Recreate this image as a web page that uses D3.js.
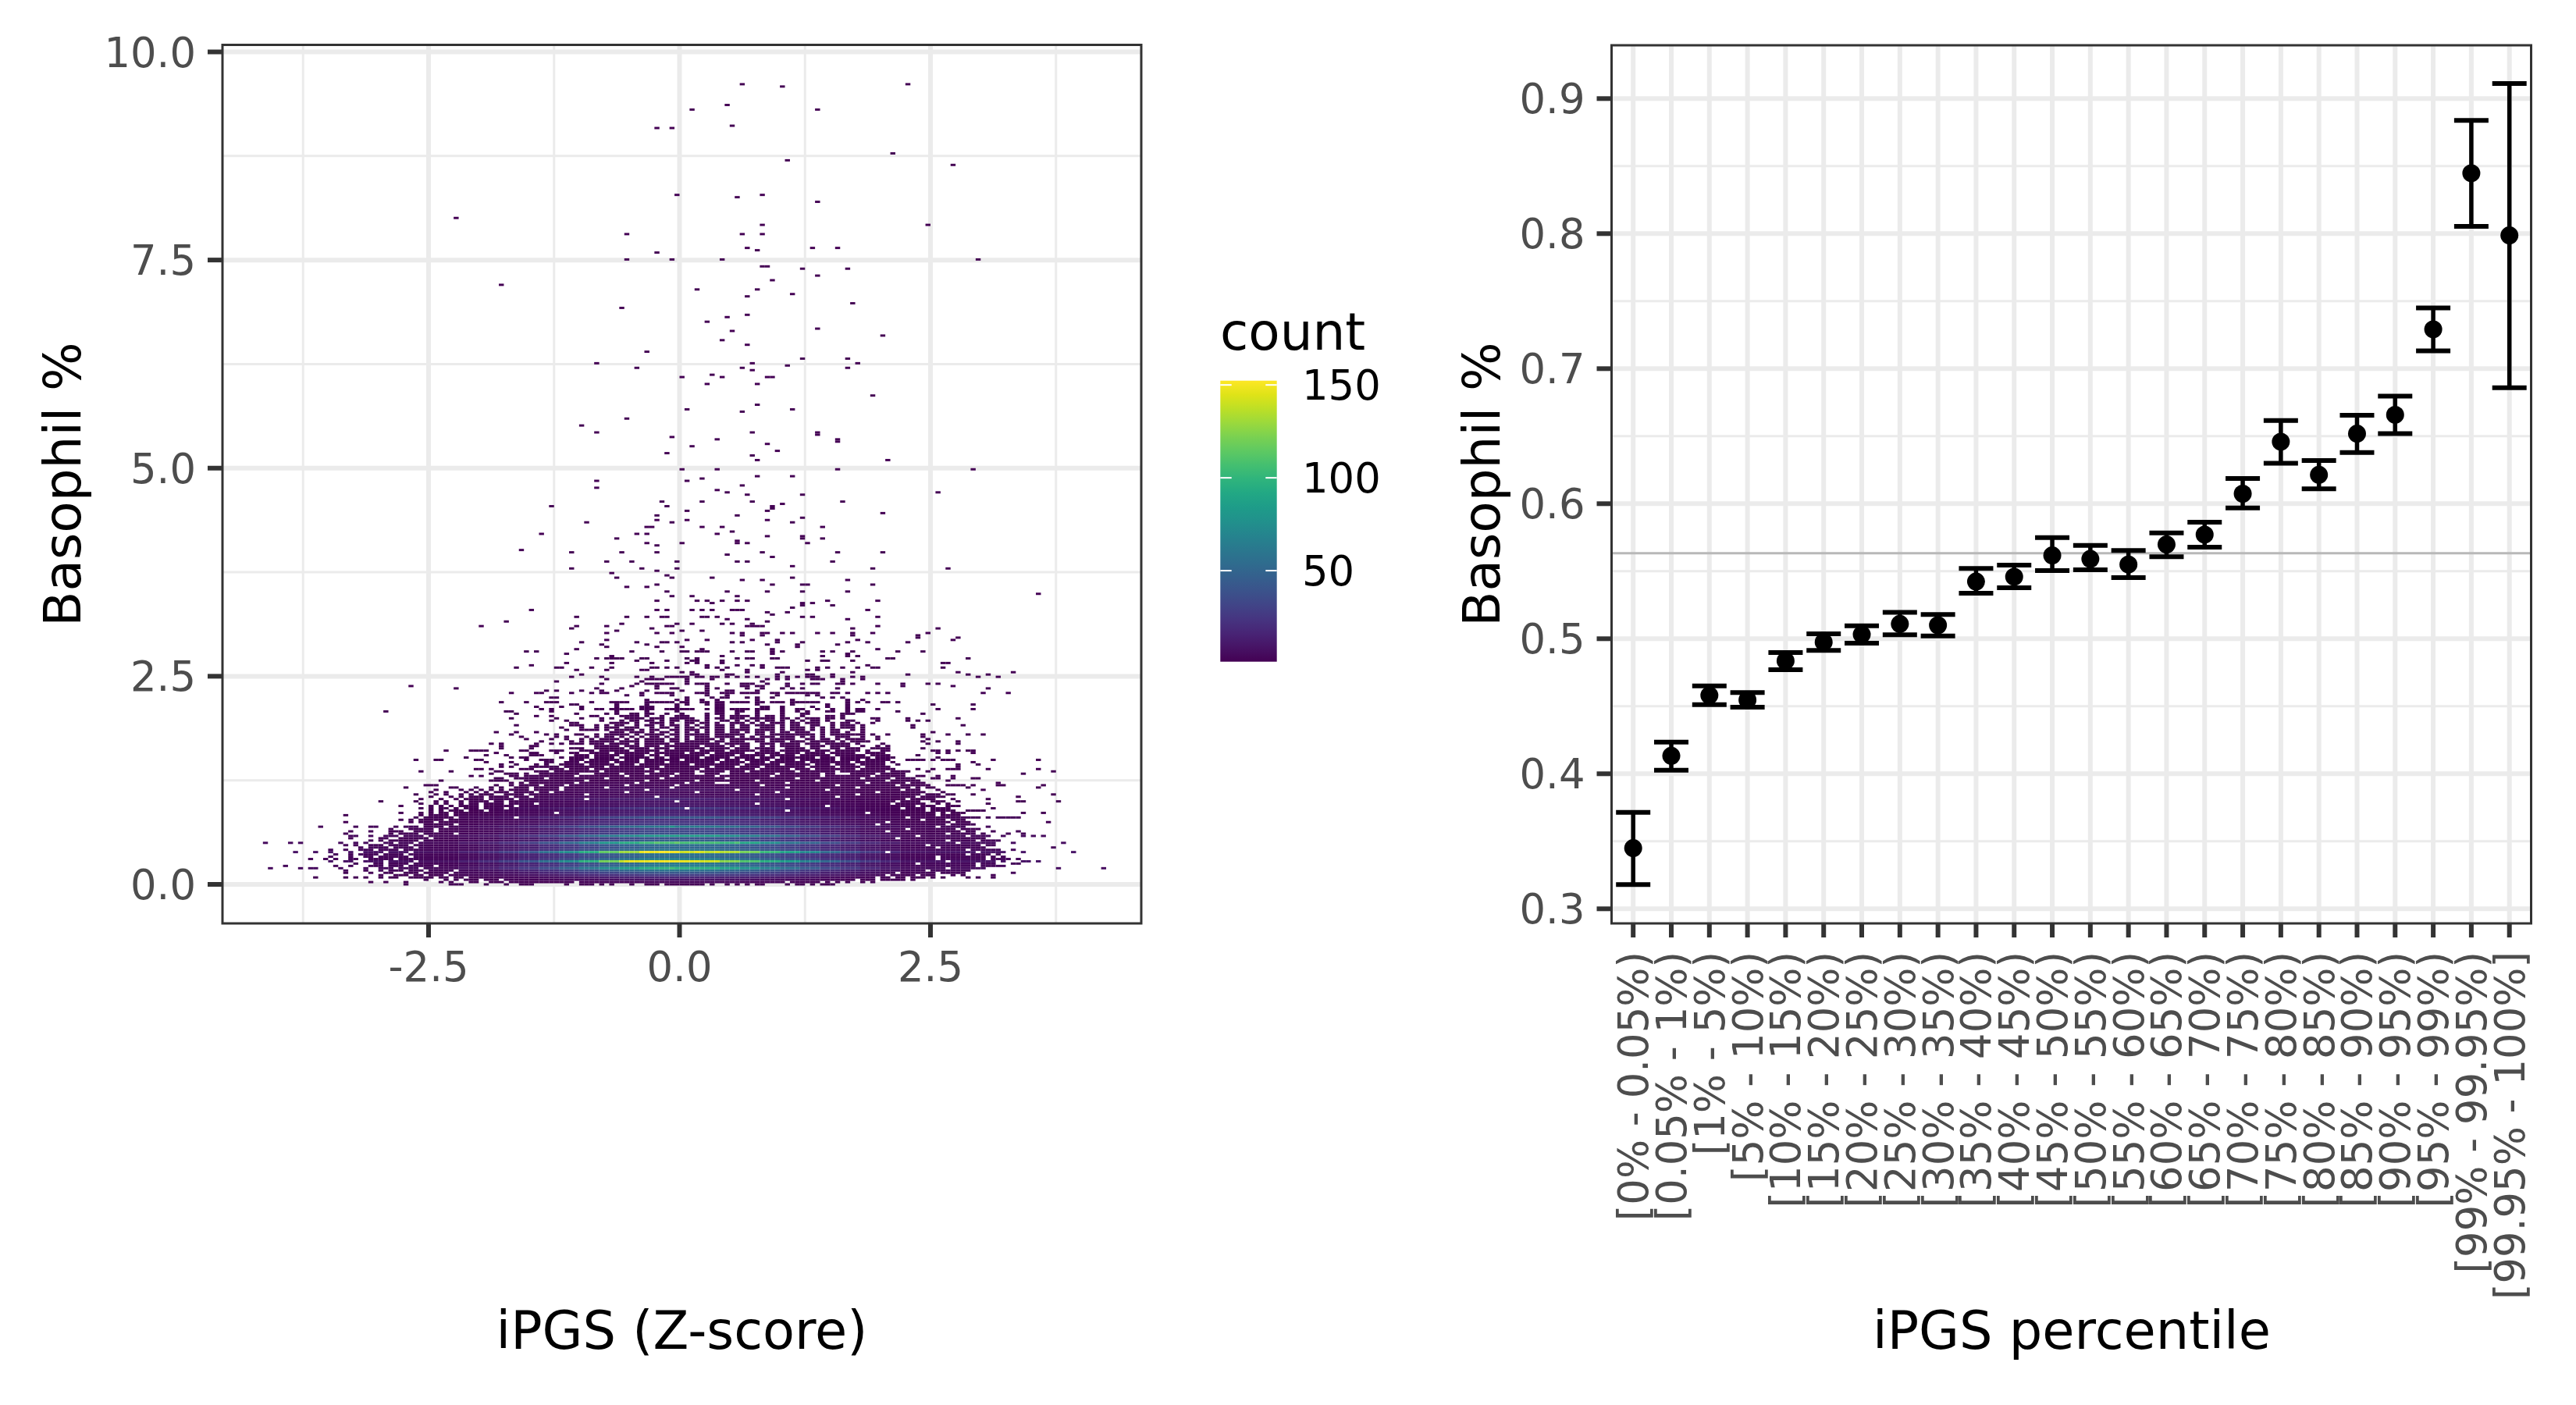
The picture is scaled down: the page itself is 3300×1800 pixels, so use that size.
<!DOCTYPE html>
<html><head><meta charset="utf-8"><script src="https://cdn.jsdelivr.net/npm/d3@7"></script>
<style>html,body{margin:0;background:#fff}text{font-family:"DejaVu Sans"}</style></head><body>
<svg id="c" width="3300" height="1800" xmlns="http://www.w3.org/2000/svg"></svg>
<script>
// ---- left panel data: 2D histogram ----
const xBinWidth = 0.05, yBinWidth = 0.0277;
// "row|col col a:b" : occupied bins of each y-row
const outlierRows = ["347|12 45","346|20","338|9","336|2 27","329|10","328|-5 -2","317|42","314|21","312|54","299|-1 16","298|11","296|27","289|-45","286|16 49","282|-11 12 16","276|13 26 31","275|15","274|-5","271|-11 -2 8 59","268|16 17","267|24 33","264|27","262|18","260|-36","258|3 15","256|22","255|13","252|34","250|-12","247|13","246|9","244|5","241|27","240|10","238|40","236|8","234|13","231|-7","228|24 33","226|-17 14 35","225|21","224|-9 12 33","223|14","221|6","220|0 8 17 18","217|5 15","212|38","208|15","206|1 22","205|12","202|-11","199|-20","196|-17 14 27","195|27","194|-2","193|7 31","192|31","191|17","190|2","188|19","187|-3","186|14","184|15 41","180|0 7 31 58","177|15 22","176|4","175|-17 1","173|12","172|-17","171|7","170|9 51","169|13 24","166|-4 4 14 32","165|20","164|-26 -3 18","163|18","162|1 17","161|40","160|-5 11","159|24","158|-5 1 17","157|-19 -2 22","155|-7 -6 4 8 28","153|10","152|-28 -9 -7 7","151|17 24","150|-13 24 28","149|11","148|-7 0 11 13 25","147|-5","145|-32","144|-22 -12 -5 16 31 40","143|9","142|18","140|-15 -10 -1 11 13 30","138|22","137|-22 -8 -1 38 53","136|-5","135|-14","134|-3","133|-13 -2 6 22","132|12 16 33","130|-5 18 24 25 38","129|-11 -7","127|-3 9 17 24 33","126|71","125|-2 2 11","123|-5 3 5 8 11 13 29 39","122|6 24 26","121|24 30","120|22","119|-30 -5 -3 2 4 6 10 11 12 37","118|17 21","117|18","116|-21 -11 -7 -4 -3 4 5 7 24 26 39","115|9 13 33","114|-35 17","113|-12 -1 2 8 10 14","112|-40 -21 -15 -3 -2 13:16 39","111|-22 -6 34 51","110|-13 0 4"];
const midRows = ["109|-15 -5 -2 10 12 16 17 20 22 27 30 34 38 49","108|12 16 34 47","107|47 55","106|-15 1 5 14 19 35 54","105|-20 -9 -4 -3 -1 10 12 19 24 33 37 45","104|-16 -7 17 23 31","103|-15 -5 0 23","102|-21 4 18 39","101|-31 -29 -10 -4 0 1 3:5 10 13 14 18 20 28 30 34 43 48","100|-23 18 33","99|-14 8 28 33 35","98|-17 -15:-12 -8 -7 1 3 11 13 14 18 19 41 42 57","97|-9 -3 2 3 8 25 28 29 34","96|-23 -14 -6 1 3 8 52 53","95|-30 5 11 14 16 37","94|-33 -25 -24 -18 -14 -6 -5 -3 -1 5 7 9 16 19:21 27 29 32 35 38 39 52","93|-21 -15 -8 -7 8 13 25 27","92|0 2 13 20 34 55 66","91|-20 2 3 9 10 19 25 26 30 45 57 61","90|-22 -16 -9 -6 -3:1 3 4 6 7 9 11 13 15 19 21 23 25:27 30 34 36 59 63","89|-15 -7:-4 1 6 17 19 21 26:28 32 36","88|-25 -8 1 16 32","87|-16 -9 -7:-2 1 3:5 9 12:14 17 21 24 26 27 31 32 34 39 44 49 51","86|-54 -10 -5 5 12 13 15 16 21 44 54","85|-45 -17 -12 -5 -2 -1 5 7 13 16 20 22 24 31 61","84|-27 -25 -20 -16 -13 -7 0 5 9 10 15","83|-34 -29 -28 -22 -18 -16 -15 -8 -5:-2 3:5 8:10 12:15 18 19 21:27 30 31 33 37 39 41 60 65","82|-11 -8 -2 5 9 19 25 27","81|-26 -25 1 6 8 9 13 15 18 28 30 32","80|-7 -1 1 4 7 15 22 33 36","79|-36 -31 -27:-25 -18 -14:-11 -7:-2 0 1 4 5 7 8 10:13 15 16 18:20 22:27 33 35 37 40 41 43","78|-22 -21 -13 -7 -1 1 5 7 8 15 22 29 33 50 58","77|-29 -24 -20 -13 -8:-6 -1 7 8 16 17 20 26 29 33","76|-28 -26 -20 -17 -16 -14:-10 -8:-6 -3:2 5 7 8 10:13 15:17 20 23 24 27 30 33 35 36 39 51 58","75|-59 -35 -34 -26 -13 -7 -1 7 8 11 12 15 20 23 25 29 30 33 35 36 43","74|-33 -21 -15 -13 -10 -9 -7 -6 -3 0 5 7 8 11 15 20 24 25 32:34 48","73|-29 -26 -18 -17 -12:-9 -7 -4 -1:1 5 8 10:13 15 17 18 20 24 29 30 32","72|-34 -25 -20 -16 -14 -11:-8 -6:-4 -2:2 5 7 8 10:12 14 15:18 20 21 23 25:27 29 30 32 38 39 45 55","71|-26 -23 -16 -12 -10 -9 -7 -6 -4 -2 -1 1:3 5 8 9 11 13 15 17 18 20 22 24 26 27 29 33 34 39 45 47 49","70|-22 -21 -14:-11 -9 -6:-4 -2 1 2 4 5 7 10:12 14 16 18:20 22 23 25:27 30 32 33 35 38","69|-33 -22:-20 -17 -15 -13 -12 -9 -7 -6 -4 -2 -1 1 3 5 7 8 10 12 13 15:18 20 22 23 26 27 30 32:34 36 46 56","68|-24 -20 -17 -15:-13 -11:-9 -6 -4 -3 -1 1 2 4 5 7 8 10 12 13 16:18 20 22:24 26 28 30 32:34 36 46","67|-23 -20:-17 -15 -13:-10 -8 -6 -5 -2 -1 1:3 5 7 8 10:13 15:18 20 22:24 26 28 30 31 34 36","66|-37 -33 -29 -14:-12 -10:-8 -6 -4 -3 -1 1 3 5 7 8 10 11 13 15 16 18 20 21 23:25 28 30 31 33 36 50","65|-34 -27 -25 -21 -20 -17 -15:-11 -9 -7:-4 -2 -1 1:5 7 8:12 15 16 18 19:26 28 30:36 38 41 48 53 57 60","64|-32 -25 -23 -19 -17 -15 -14 -12 -10 -8 -6 -5 -3 -1 1 3:5 7 8:10 12 14 16:18 20:22 24 26 28 31:33 36 39 48","63|-31 -26 -23 -20 -18 -16:-13 -11 -9 -7:-4 -2 -1 1 3:6 8 10:16 18 19:22 25 26 28 29 31 33:36 39 49","62|-28 -22 -20 -18 -17:-14 -12 -11:-9 -7:-4 -2 -1 1:5 7 8 10:12 15 16 18:20 22:24 26:30 32 34:37 48 51 55","61|-38 -36 -29 -26 -24 -22:-20 -18:-16 -14:-11 -9 -7:-3 -1:7 9:13 16:18 20:23 25:27 29:33 35 40 49 55"];
const denseRows = ["60|-36 -30 -29 -17:-13 -11:-9 -7:-5 -3:3 5:8 10 12 13 16 18 20:23 26:28 30:33 36 39 41","59|-36 -30 -22:-20 -17:-12 -10:-7 -5:-3 -1:4 6:9 11:13 15:18 21:24 26 27 30 31 33:35 38:41 48","58|-47 -42:-39 -32 -31 -26:-24 -20:-18 -16:-11 -9:-5 -3:2 4:8 10:14 16:18 20:25 27:29 31:35 37 40 41 50 51 53 55 57 58","57|-37 -30 -29 -25 -22 -21 -18:-15 -13:-7 -5:0 2:5 7:12 15:19 21:23 25:28 30:34 37:40 51 53 58","56|-39 -35 -30:-28 -21:-19 -17:-13 -11:-8 -6:-5 -3:4 6:10 12:16 18:22 24:29 31:36 38:41 47","55|-43 -34 -32 -31 -24 -22:-19 -17:-14 -12:-7 -5:-4 -2:3 5:9 11:14 16:18 20:26 28:30 32:37 39:42 51","54|-53 -49 -48 -41 -40 -31 -28:-26 -22:-20 -18:-13 -11:-9 -7:-1 1:7 9:11 13:17 19:22 24:30 32:35 37:41 45:48 50 52:54 62 71","53|-39 -34 -27 -26 -23:-21 -19:-15 -13:-9 -7:-4 -2:6 8:12 14:16 18:24 26:33 35:40 42 58","52|-36 -33 -29 -27 -24:-20 -18:-14 -12:-10 -8:1 3:11 13:19 21:25 27:29 31:34 36:40 43 55 59","51|-36 -34 -30:-25 -23:-16 -14:-5 -3:5 7:10 12:15 17:24 26:30 32:35 37:41 55","50|-41 -40 -38 -32:-30 -26:-24 -22:-19 -17:-8 -6:3 5:14 16:21 23:25 27:34 36:42 47 50 53:55 61 71","49|-52 -46 -37 -36 -29:-27 -25:-17 -15:-6 -4:2 4:8 10:12 14:22 24:30 32:40 42:45 49 74","48|-38 -35:-33 -31 -28:-21 -17:-13 -11:-8 -6:-2 0:2 5:7 10:18 20:27 29 30 34:38 40:44 68","47|-42 -40 -34 -33 -31:-22 -20:-12 -10:-3 -1:6 8:17 19:27 29:37 39:44 47 48 51 54","46|-37 -36 -33:-28 -26:-16 -14:-5 -3:8 10:22 24:35 37:41 43:46 50 51 54 58 59","45|-48 -38:-35 -31:-20 -18:-8 -6:2 4:14 16:26 28:40 42:47 53","44|-34 -32 -30:-22 -20:-10 -8:0 2:6 10:20 22:36 38:44 46:48 63","43|-51:-49 -37 -34 -32:-29 -27:-24 -22:-12 -10:-2 0:15 17:30 32:42 44:49 53:56 58 63 64 72","42|-55 -46 -45 -41 -38 -36 -33:-31 -29:-25 -23:-16 -14:-3 -1:20 22:34 36:45 47 49 50 57 71","41|-49 -44 -42 -40 -38 -36 -34:-31 -29:-25 -23:-8 -6:10 12:28 30:43 45:47 51 60","40|-50 -47 -43 -41 -39 -37:-35 -33:-30 -28 -27 -25:-12 -10:2 4:18 20:38 40:48 52","39|-53 -49 -47 -44 -42 -40:-38 -35:-32 -30:-20 -18:14 16:34 36:47 49:51 53 54 58 74","38|-50 -46 -44 -42:-40 -38:-35 -33:-31 -29:-6 -4:30 32:46 48:52 67","37|-52 -48 -45 -43:-40 -38:-34 -32:-20 -18:20 22:44 46:50 54 61","36|-60 -53 -49 -47 -44 -42:-39 -37 -36 -34:-2 0:42 44:47 50:52 55 67 68 75","35|-52 -49 -47 -44 -42 -41 -39:-36 -34:-30 -28:14 16:41 43:48 51 53 61","34|-56 -50 -48 -46 -44:-41 -39:-34 -32:28 30:46 48:50 53:55","33|-52 -50 -48 -47 -45 -43:-41 -39:-36 -34:0 2:43 45:48 50:53 62","32|-50 -48 -46:-44 -42:-40 -38:20 22:48 50:54 57:60","31|-56 -52 -50 -48 -47 -45 -44:-26 -24:36 38:50 52 54:56 68 72","30|-67 -52 -50:-47 -45:50 52:55","29|-53 -51:-46 -44:-34 -32:44 46:54 55:59 61 63:67","28|-56 -54 -52:-48 -46:47 49:52 54:56","27|-67 -54 -52:-50 -48:40 42:53 55:57 73","26|-51:-46 -44:38 40:52 54:58","25|-72 -65 -62 -61 -57 -55:-53 -51:-48 -46:50 52:56 61","24|-58 -54:-50 -48:44 46:54 56:59","23|-66 -62 -58:-56 -53:-50 -48:40 42:55 57 58 62 67","22|-67 -58 -56:-53 -51:-46 -44:52 54:58 60 65 68","21|-66 -65 -62 -59:-57 -55:-52 -50:46 48:56 58:61 64 68 70 72","20|-66 -60 -59 -56:-51 -49:42 44:60","19|-62 -60 -58:-53 -51:52 54:58 60:63","18|-83 -78 -76 -68 -65 -63 -59 -58 -56:-54 -52:54 56:62 66 76","17|-67 -65 -62:-60 -58:-55 -53:48 50:59 61 62","16|-64 -62:-59 -57:-54 -52:50 52:60 74","15|-70 -67 -64:-62 -60:-57 -55:56 58:63 66","14|-77 -73 -70 -66 -63:-60 -58:-55 -53:40 42:58 60:64 68 78","13|-69 -66 -64:-61 -59:-56 -54:56 58:61 63","12|-70 -66 -63 -62 -60:-55 -53:50 52:60 62 64","11|-74 -71 -69 -66 -65 -62:-58 -56:50 52:60 62:65 67","10|-70 -67 -66 -63:-60 -58:-54 -52:52 54:62 64 68 69 71","9|-65 -61 -60 -58:-55 -53:46 48:58 60:62 66 67","8|-79 -69 -66 -62:-60 -58:-56 -54:-50 -48:58 60:64","7|-82 -76 -74 -73 -68 -63 -60:-58 -56:-53 -51:52 54:60 75 84","6|-67 -63 -60 -58:-56 -54:-52 -50:-46 -44:48 50:57","5|-67 -62 -59 -58 -55:-53 -51:-47 -45:42 44:50 52:56 66","4|-60 -57:-55 -53 -52 -50:-48 -46:40 42:46 48:50 54 56 62","3|-73 -67 -65 -63 -60 -58 -57 -54:-50 -48 -47 -45 -44 -42:38 40 41 43 44 46:48 50 52 57 59 62","2|-51 -47 -45 -43:-41 -39:-37 -35:34 36:38 40:44 46","1|-62 -59 -55 -48 -46 -42 -41 -38:-36 -34:-22 -20:20 22:27 29 31 33 36 38","0|-55 -46:-44 -39 -35 -32:-30 -23 -20:-18 -16 -14 -10 -7:-5 -3:4 6 9 11 13 15 16 21 23 24 26 28:30"];
// count per y-row (index = row) and column band, four columns wide
const coreBandBreaks = [-44,-40,-36,-32,-28,-24,-20,-16,-12,-8,-4,0,4,8,12,16,20,24,28,32,36,40,44];
const coreCounts = [
[1,1,1,1,1,1,1,1,1,1,1,1,2,1,1,1,1,1,1,1,1,1,1,1],
[1,1,1,1,1,1,2,2,3,3,4,4,4,4,4,3,3,2,2,1,1,1,1,1],
[1,1,1,2,2,3,4,5,6,7,8,8,8,8,7,6,5,4,4,3,2,1,1,1],
[1,1,2,3,4,6,8,10,12,14,15,16,16,15,14,13,11,9,7,5,4,3,2,1],
[1,3,4,5,8,10,14,17,21,24,27,28,28,27,25,22,19,16,13,10,7,5,3,2],
[2,4,5,8,11,16,21,26,32,37,40,42,42,41,37,33,28,24,19,14,11,7,5,3],
[3,5,8,11,16,22,29,37,45,52,58,60,60,58,53,47,40,34,27,20,15,10,7,4],
[5,9,13,19,26,36,48,61,74,85,94,98,98,95,87,77,66,55,44,33,25,17,11,6],
[3,6,9,13,18,24,32,41,50,57,63,66,66,64,59,52,44,37,30,22,17,11,7,4],
[3,5,8,11,16,22,29,37,45,52,58,60,60,58,53,47,40,34,27,20,15,10,7,4],
[8,14,20,29,41,56,74,98,120,138,148,150,148,142,125,110,96,84,68,51,38,26,17,9],
[3,6,9,13,18,25,33,42,51,59,65,68,68,66,60,54,46,38,31,23,17,12,7,4],
[3,5,7,10,15,20,26,33,40,47,52,54,54,52,48,43,36,30,24,18,14,9,6,3],
[3,5,8,11,16,21,28,36,44,50,56,58,58,56,52,46,39,32,26,20,15,10,6,3],
[8,14,20,29,41,56,74,95,115,130,148,150,146,142,135,120,102,88,72,53,38,26,17,9],
[3,5,8,12,16,22,29,36,45,52,58,60,59,58,52,47,40,33,27,20,15,10,7,4],
[3,5,7,10,14,19,25,31,38,44,48,50,50,49,45,40,34,28,23,17,13,9,6,3],
[3,5,7,11,15,21,27,35,42,49,54,56,56,54,50,44,38,31,25,19,14,10,6,3],
[5,10,14,21,29,40,53,67,81,94,104,108,106,106,100,90,75,60,49,37,27,18,12,6],
[2,4,6,9,12,17,23,29,35,40,44,46,46,45,41,36,31,26,21,16,12,8,5,3],
[2,4,5,8,11,15,20,25,30,35,38,40,40,39,36,32,27,22,18,14,10,7,4,2],
[4,8,11,16,23,31,42,53,64,74,82,85,85,84,76,67,57,48,38,29,21,14,9,5],
[2,3,5,7,10,14,18,23,28,32,36,37,37,36,33,29,25,21,17,13,9,6,4,2],
[2,3,4,6,9,13,17,21,26,30,33,34,34,33,30,27,23,19,15,12,9,6,4,2],
[2,3,4,6,8,11,15,19,23,27,30,31,31,30,28,24,21,17,14,11,8,5,3,2],
[3,6,8,12,17,24,31,40,48,56,61,64,64,62,57,51,43,36,29,22,16,11,7,4],
[1,2,4,5,7,10,13,17,20,23,26,27,27,26,24,21,18,15,12,9,7,5,3,2],
[1,2,3,5,6,9,12,15,18,21,23,24,24,23,21,19,16,13,11,8,6,4,3,1],
[1,2,3,4,6,8,10,13,16,18,20,21,21,20,19,17,14,12,9,7,5,4,2,1],
[2,4,6,8,12,16,21,27,32,37,41,43,43,42,38,34,29,24,19,15,11,7,5,3],
[1,2,2,3,5,6,8,11,13,15,16,17,17,16,15,13,11,10,8,6,4,3,2,1],
[1,1,2,3,4,6,7,9,11,13,14,15,15,15,13,12,10,8,7,5,4,3,2,1],
[1,1,2,3,4,5,7,9,10,12,13,14,14,14,12,11,9,8,6,5,3,2,2,1],
[1,2,3,5,7,10,13,16,19,23,25,26,26,25,23,21,17,15,12,9,6,4,3,2],
[1,1,1,2,3,4,5,7,8,10,11,11,11,11,10,9,7,6,5,4,3,2,1,1],
[1,1,1,2,3,4,5,6,8,9,10,10,10,10,9,8,7,6,4,3,3,2,1,1],
[1,1,1,2,2,3,4,6,7,8,9,9,9,9,8,7,6,5,4,3,2,2,1,1]];
// rows above the core, coarser bands
const upperBandBreaks = [-40,-32,-26,-20,-14,-8,-2,4,10,16,22,28,34,42];
const upperCounts = [[1,3,5,8,11,14,16,16,15,13,11,8,5,3,1],[1,1,2,4,5,6,7,7,6,6,4,3,2,1,1],[1,1,2,3,4,5,6,6,5,5,4,3,2,1,1],[1,1,2,3,4,5,5,5,5,4,3,2,2,1,1],[1,1,2,3,5,6,7,8,7,6,4,3,2,1,1],[1,1,1,2,3,4,4,4,4,3,3,2,1,1,1],[1,1,1,2,3,3,3,3,3,3,2,2,1,1,1],[1,1,1,2,2,3,3,3,3,2,2,1,1,1,1]];
const peakCells = [[14,-7,151],[14,-4,153],[14,-3,150],[14,0,140],[14,1,142],[14,2,140],[14,5,136],[14,6,138],[10,-11,146],[10,-10,148],[10,-9,146],[10,-6,152],[10,-5,148],[10,-2,150],[10,2,146],[18,-5,112],[18,-1,115],[18,11,108],[25,-2,80],[7,-2,105]];
const leftXTicks = [-2.5,0,2.5], leftXMinor = [-3.75,-1.25,1.25,3.75];
const leftYTicks = [0,2.5,5,7.5,10], leftYMinor = [1.25,3.75,6.25,8.75];
const legendTicks = [50,100,150];
// ---- right panel data ----
const percentileBins = ["[0% - 0.05%)","[0.05% - 1%)","[1% - 5%)","[5% - 10%)","[10% - 15%)","[15% - 20%)","[20% - 25%)","[25% - 30%)","[30% - 35%)","[35% - 40%)","[40% - 45%)","[45% - 50%)","[50% - 55%)","[55% - 60%)","[60% - 65%)","[65% - 70%)","[70% - 75%)","[75% - 80%)","[80% - 85%)","[85% - 90%)","[90% - 95%)","[95% - 99%)","[99% - 99.95%)","[99.95% - 100%]"];
const meanValues = [.3449,.4133,.4581,.4547,.4836,.4975,.5032,.511,.51,.5423,.5459,.5617,.5591,.555,.5698,.5771,.6074,.6459,.6214,.6519,.6658,.7291,.8447,.7987];
const lowerValues = [.3179,.4027,.4512,.4493,.477,.4913,.4967,.5029,.502,.5337,.5377,.5505,.551,.5452,.5607,.5678,.5968,.6299,.611,.6379,.6519,.7132,.8054,.6859];
const upperValues = [.3714,.4235,.4651,.4601,.4898,.5036,.5096,.5195,.518,.552,.5545,.5749,.5691,.5654,.5784,.5863,.6187,.6616,.632,.6655,.6797,.745,.8838,.9111];
const overallMean = 0.5633;
const rightYTicks = [.3,.4,.5,.6,.7,.8,.9], rightYMinor = [.35,.45,.55,.65,.75,.85];

const GRID="#ebebeb", BORDER="#333333", TXT="#4d4d4d";
const svg=d3.select("#c");
svg.append("rect").attr("width",3300).attr("height",1800).attr("fill","#fff");

function hLines(g,vals,y,x0,x1,w){g.selectAll(null).data(vals).enter().append("line").attr("x1",x0).attr("x2",x1).attr("y1",d=>y(d)).attr("y2",d=>y(d)).attr("stroke",GRID).attr("stroke-width",w);}
function vLines(g,vals,x,y0,y1,w){g.selectAll(null).data(vals).enter().append("line").attr("y1",y0).attr("y2",y1).attr("x1",d=>x(d)).attr("x2",d=>x(d)).attr("stroke",GRID).attr("stroke-width",w);}
function yAxis(g,vals,y,xEdge,fmt){
  g.selectAll(null).data(vals).enter().append("line").attr("x1",xEdge-18).attr("x2",xEdge).attr("y1",d=>y(d)).attr("y2",d=>y(d)).attr("stroke",BORDER).attr("stroke-width",6);
  g.selectAll(null).data(vals).enter().append("text").attr("x",xEdge-33).attr("y",d=>y(d)+19).attr("text-anchor","end").attr("font-size",52.8).attr("fill",TXT).text(fmt);
}

// ---- left panel ----
const P1={l:285,r:1462,t:57.5,b:1183};
const x1=d3.scaleLinear().domain([-2.5,2.5]).range([549,1192]);
const y1=d3.scaleLinear().domain([0,10]).range([1133,66.5]);
const g1=svg.append("g");
hLines(g1,leftYMinor,y1,P1.l,P1.r,3);vLines(g1,leftXMinor,x1,P1.t,P1.b,3);
hLines(g1,leftYTicks,y1,P1.l,P1.r,6);vLines(g1,leftXTicks,x1,P1.t,P1.b,6);

function parseRows(rows){
  const out=[];
  rows.forEach(s=>{const [r,rest]=s.split("|");
    rest.trim().split(/\s+/).forEach(t=>{
      const m=t.match(/^(-?\d+):(-?\d+)$/);
      if(m){for(let k=+m[1];k<=+m[2];k++)out.push([+r,k]);}
      else out.push([+r,+t]);
    });});
  return out;
}
const seen=new Set();
const peakMap=new Map(peakCells.map(p=>[p[0]+"_"+p[1],p[2]]));
const bandOf=d3.bisectRight;
const cells=parseRows(outlierRows.concat(midRows,denseRows)).filter(c=>{const k=c[0]+"_"+c[1];if(seen.has(k))return false;seen.add(k);return true;})
  .map(([r,k])=>{
    const key=r+"_"+k;
    let n=1;
    if(peakMap.has(key))n=peakMap.get(key);
    else if(r<coreCounts.length)n=coreCounts[r][bandOf(coreBandBreaks,k)];
    else if(r-coreCounts.length<upperCounts.length)n=upperCounts[r-coreCounts.length][bandOf(upperBandBreaks,k)];
    return {x0:k*xBinWidth,x1:(k+1)*xBinWidth,y0:(r-0.5)*yBinWidth,y1:(r+0.5)*yBinWidth,count:n};
  });
const color=d3.scaleSequential(d3.interpolateViridis).domain([1,152.5]);
g1.selectAll("rect.cell").data(cells).enter().append("rect").attr("class","cell")
  .attr("x",d=>x1(d.x0)).attr("width",d=>x1(d.x1)-x1(d.x0))
  .attr("y",d=>y1(d.y1)).attr("height",d=>y1(d.y0)-y1(d.y1))
  .attr("fill",d=>color(d.count));
g1.append("rect").attr("x",P1.l).attr("y",P1.t).attr("width",P1.r-P1.l).attr("height",P1.b-P1.t).attr("fill","none").attr("stroke",BORDER).attr("stroke-width",3);
yAxis(g1,leftYTicks,y1,P1.l-1,d=>d3.format(".1f")(d));
g1.selectAll(null).data(leftXTicks).enter().append("line").attr("x1",d=>x1(d)).attr("x2",d=>x1(d)).attr("y1",P1.b).attr("y2",P1.b+18).attr("stroke",BORDER).attr("stroke-width",6);
g1.selectAll(null).data(leftXTicks).enter().append("text").attr("x",d=>x1(d)).attr("y",1257).attr("text-anchor","middle").attr("font-size",52.8).attr("fill",TXT).text(d=>d3.format(".1f")(d).replace("−","-"));
svg.append("text").attr("x",873.5).attr("y",1728).attr("text-anchor","middle").attr("font-size",67).text("iPGS (Z-score)");
svg.append("text").attr("transform","translate(103,620.5) rotate(-90)").attr("text-anchor","middle").attr("font-size",66).text("Basophil %");

// ---- legend ----
const L={l:1563.3,r:1635.7,t:487.7,b:847.7};
const yL=d3.scaleLinear().domain([1,152.3]).range([L.b,L.t]);
const defs=svg.append("defs");
const lg=defs.append("linearGradient").attr("id","vir").attr("x1",0).attr("x2",0).attr("y1",1).attr("y2",0);
d3.range(0,21).forEach(i=>lg.append("stop").attr("offset",i/20).attr("stop-color",color(1+i/20*151.5)));
svg.append("rect").attr("x",L.l).attr("y",L.t).attr("width",L.r-L.l).attr("height",L.b-L.t).attr("fill","url(#vir)");
const lt=svg.append("g");
legendTicks.forEach(t=>{
  lt.append("line").attr("x1",L.l).attr("x2",L.l+14.4).attr("y1",yL(t)).attr("y2",yL(t)).attr("stroke","#fff").attr("stroke-width",2);
  lt.append("line").attr("x1",L.r-14.4).attr("x2",L.r).attr("y1",yL(t)).attr("y2",yL(t)).attr("stroke","#fff").attr("stroke-width",2);
  lt.append("text").attr("x",1668).attr("y",yL(t)+19).attr("font-size",52.8).attr("fill","#000").text(t);
});
svg.append("text").attr("x",1563).attr("y",448).attr("font-size",66).text("count");

// ---- right panel ----
const P2={l:2064.5,r:3242.5,t:58,b:1183};
const x2=d3.scalePoint().domain(percentileBins).range([2092.2,3214.7]);
const y2=d3.scaleLinear().domain([.3,.9]).range([1164.3,126.3]);
const g2=svg.append("g");
hLines(g2,rightYMinor,y2,P2.l,P2.r,3);hLines(g2,rightYTicks,y2,P2.l,P2.r,6);
vLines(g2,percentileBins,x2,P2.t,P2.b,6);
g2.append("line").attr("x1",P2.l).attr("x2",P2.r).attr("y1",y2(overallMean)).attr("y2",y2(overallMean)).attr("stroke","#b8b8b8").attr("stroke-width",3);
const rows=percentileBins.map((b,i)=>({b,m:meanValues[i],lo:lowerValues[i],hi:upperValues[i]}));
const eb=g2.selectAll("g.eb").data(rows).enter().append("g");
const capW=22, EB="#000";
eb.append("line").attr("x1",d=>x2(d.b)).attr("x2",d=>x2(d.b)).attr("y1",d=>y2(d.lo)).attr("y2",d=>y2(d.hi)).attr("stroke",EB).attr("stroke-width",5.5);
eb.append("line").attr("x1",d=>x2(d.b)-capW).attr("x2",d=>x2(d.b)+capW).attr("y1",d=>y2(d.lo)).attr("y2",d=>y2(d.lo)).attr("stroke",EB).attr("stroke-width",6);
eb.append("line").attr("x1",d=>x2(d.b)-capW).attr("x2",d=>x2(d.b)+capW).attr("y1",d=>y2(d.hi)).attr("y2",d=>y2(d.hi)).attr("stroke",EB).attr("stroke-width",6);
eb.append("circle").attr("cx",d=>x2(d.b)).attr("cy",d=>y2(d.m)).attr("r",11.5).attr("fill","#000");
g2.append("rect").attr("x",P2.l).attr("y",P2.t).attr("width",P2.r-P2.l).attr("height",P2.b-P2.t).attr("fill","none").attr("stroke",BORDER).attr("stroke-width",3);
yAxis(g2,rightYTicks,y2,P2.l-1,d=>d3.format(".1f")(d));
g2.selectAll(null).data(percentileBins).enter().append("line").attr("x1",d=>x2(d)).attr("x2",d=>x2(d)).attr("y1",P2.b).attr("y2",P2.b+18).attr("stroke",BORDER).attr("stroke-width",6);
g2.selectAll(null).data(percentileBins).enter().append("text").attr("transform",d=>`translate(${x2(d)+19},1219) rotate(-90)`).attr("text-anchor","end").attr("font-size",52.8).attr("fill",TXT).text(d=>d);
svg.append("text").attr("x",2654).attr("y",1728).attr("text-anchor","middle").attr("font-size",67).text("iPGS percentile");
svg.append("text").attr("transform","translate(1921,620.5) rotate(-90)").attr("text-anchor","middle").attr("font-size",66).text("Basophil %");
</script></body></html>
